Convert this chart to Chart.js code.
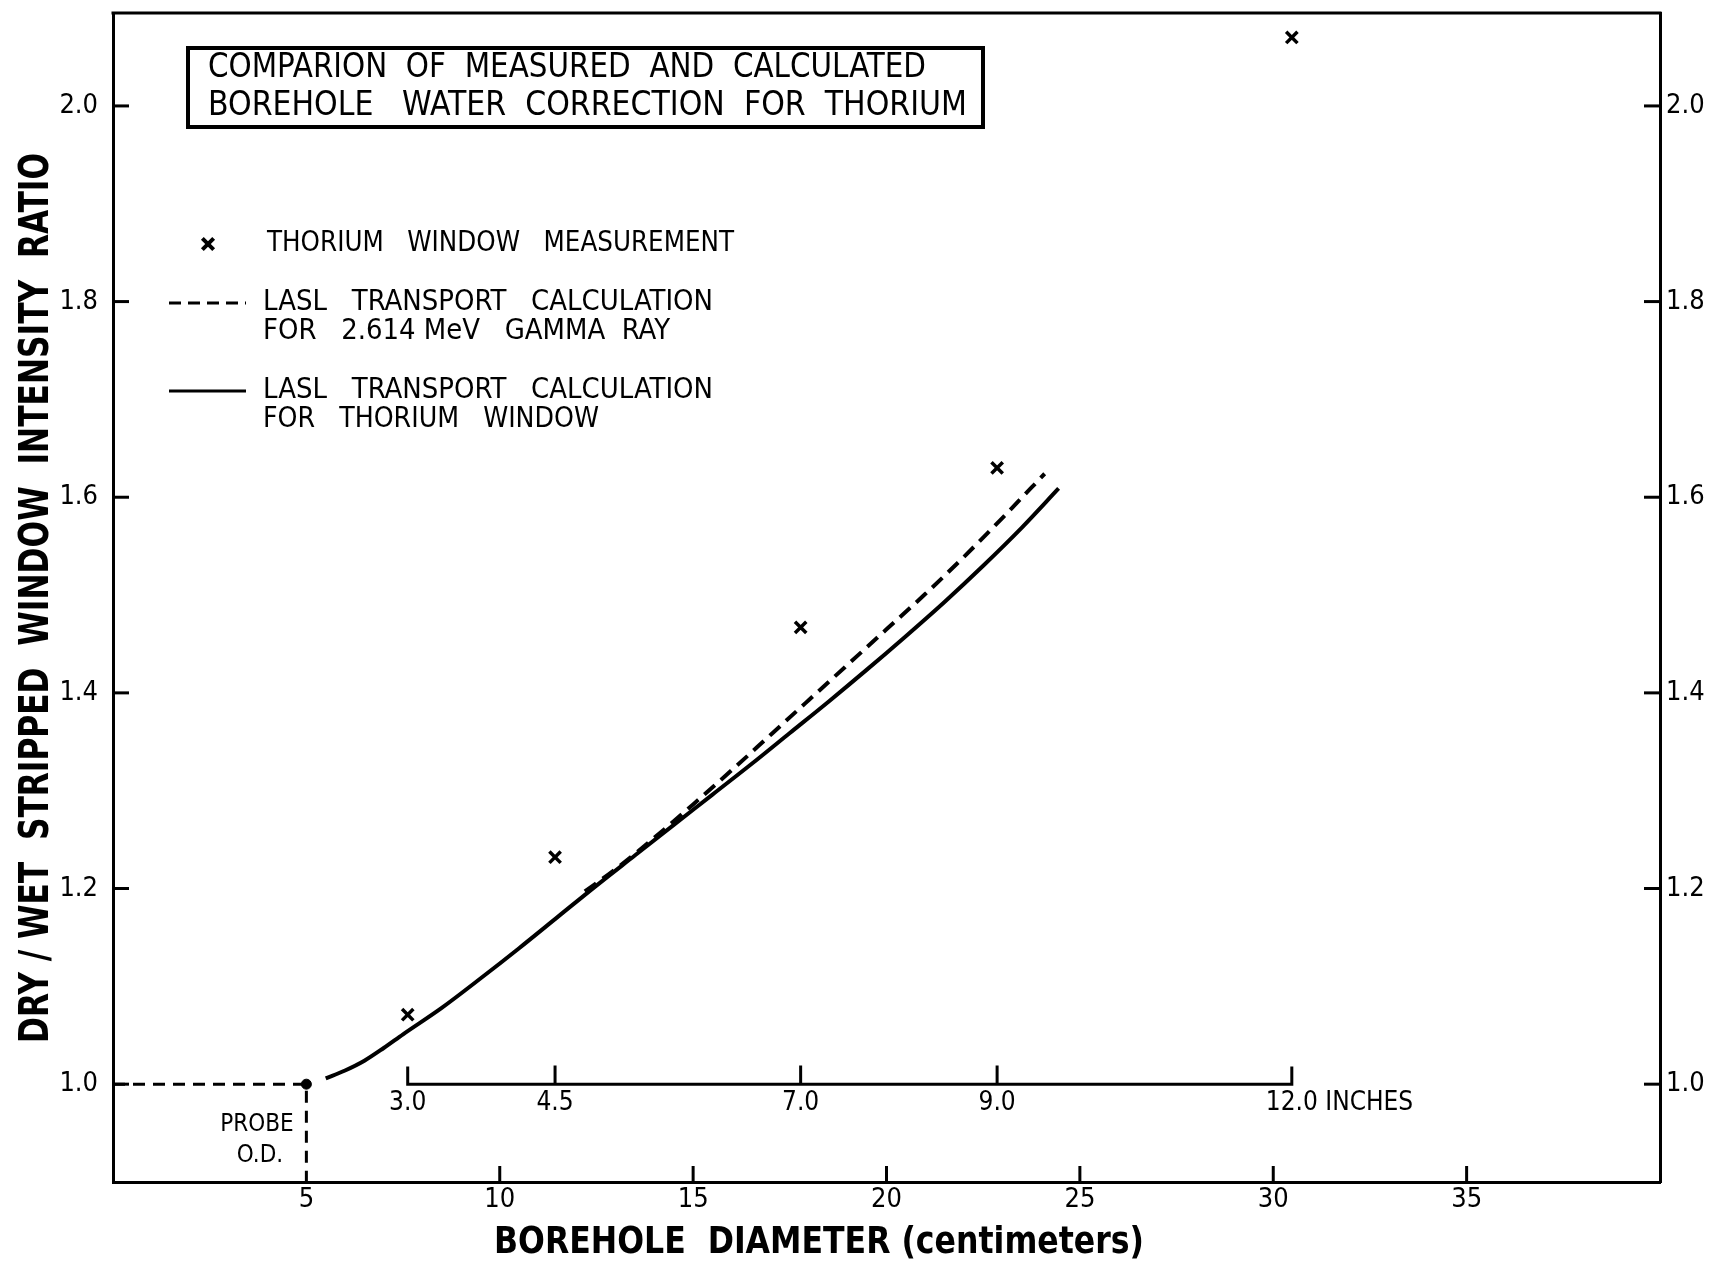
<!DOCTYPE html>
<html>
<head>
<meta charset="utf-8">
<title>Borehole water correction for thorium</title>
<script src="https://cdn.jsdelivr.net/npm/chart.js@4.4.0/dist/chart.umd.min.js"></script>
<style>
  html, body { margin: 0; padding: 0; background: #fff; }
</style>
</head>
<body>
<canvas id="chart" width="1713" height="1265"></canvas>
<script>
const FONT = "'Liberation Sans Narrow', 'DejaVu Sans Condensed', 'Arial Narrow', sans-serif";

// thorium window measurements (borehole diameter in cm)
const measuredX = [7.62, 11.43, 17.78, 22.86, 30.48];
const measuredY = [1.071, 1.232, 1.467, 1.630, 2.070];

// LASL transport calculation for thorium window (solid)
const thoriumX = [5.5, 6.0, 6.5, 7.0, 7.5, 8.5, 9.5, 10.5, 11.5, 12.5, 13.5, 14.5, 15.5, 16.5, 17.5, 18.5, 19.5, 20.5, 21.5, 22.5, 23.5, 24.45];
const thoriumY = [1.006, 1.014, 1.024, 1.037, 1.051, 1.078, 1.108, 1.139, 1.171, 1.203, 1.234, 1.265, 1.296, 1.327, 1.359, 1.391, 1.424, 1.458, 1.493, 1.530, 1.569, 1.609];

// LASL transport calculation for 2.614 MeV gamma ray (dashed)
const gammaX = [12.2, 13.0, 14.0, 15.0, 16.0, 17.0, 18.0, 19.0, 20.0, 21.0, 22.0, 23.0, 24.09];
const gammaY = [1.197, 1.220, 1.252, 1.286, 1.321, 1.357, 1.393, 1.429, 1.465, 1.501, 1.539, 1.579, 1.624];

// probe O.D. guide
const probeX = [0, 5, 5];
const probeY = [1.0, 1.0, 0.9];

const xTicks = [5, 10, 15, 20, 25, 30, 35];
const yTicks = [1.0, 1.2, 1.4, 1.6, 1.8, 2.0];

// inch scale drawn inside the plot
const inchValues = [3.0, 4.5, 7.0, 9.0, 12.0];
const inchLabels = ['3.0', '4.5', '7.0', '9.0', '12.0'];
const inchAxisY = 1.0;
const CM_PER_INCH = 2.54;

const titleLines = ['COMPARION  OF  MEASURED  AND  CALCULATED', 'BOREHOLE   WATER  CORRECTION  FOR  THORIUM'];
const xTitle = 'BOREHOLE  DIAMETER (centimeters)';
const yTitle = 'DRY / WET  STRIPPED  WINDOW  INTENSITY  RATIO';

// inch axis line + tick marks as one broken line
const inchCm = inchValues.map(v => v * CM_PER_INCH);
const inchAxisData = [];
inchCm.forEach((c, i) => {
  const last = inchCm[inchCm.length - 1];
  if (i === 0) {
    inchAxisData.push({x: c, y: inchAxisY + 0.018}, {x: c, y: inchAxisY}, {x: last, y: inchAxisY}, {x: last, y: inchAxisY + 0.018}, {x: c, y: null});
  } else if (i < inchCm.length - 1) {
    inchAxisData.push({x: c, y: inchAxisY}, {x: c, y: inchAxisY + 0.019}, {x: c, y: null});
  }
});

function pts(xs, ys) { return xs.map((v, i) => ({x: v, y: ys[i]})); }

// draw text squeezed/stretched to a given width
function fitText(ctx, text, x, y, w, rot) {
  const m = ctx.measureText(text).width;
  ctx.save();
  ctx.translate(x, y);
  if (rot) ctx.rotate(rot);
  ctx.scale(w / m, 1);
  ctx.textAlign = 'left';
  ctx.fillText(text, 0, 0);
  ctx.restore();
}

function seg(ctx, x1, y1, x2, y2) {
  ctx.beginPath(); ctx.moveTo(x1, y1); ctx.lineTo(x2, y2); ctx.stroke();
}

const decorations = {
  id: 'decorations',
  afterDraw(chart) {
    const {ctx, chartArea: a, scales: {x, y}} = chart;
    ctx.save();
    ctx.strokeStyle = '#000';
    ctx.fillStyle = '#000';
    ctx.textBaseline = 'middle';

    // top frame and inward ticks
    ctx.lineWidth = 3;
    seg(ctx, a.left - 1.5, a.top, a.right + 1.5, a.top);
    xTicks.forEach(v => {
      if (v === 5) return;
      const px = x.getPixelForValue(v);
      seg(ctx, px, a.bottom, px, a.bottom - 16);
    });
    yTicks.forEach(v => {
      const py = y.getPixelForValue(v);
      seg(ctx, a.left, py, a.left + 16, py);
      seg(ctx, a.right, py, a.right - 16, py);
    });

    // inch scale labels
    ctx.font = '26px ' + FONT;
    const ly = y.getPixelForValue(inchAxisY) + 19;
    inchLabels.forEach((t, i) => {
      const px = x.getPixelForValue(inchCm[i]);
      ctx.textAlign = 'center';
      ctx.fillText(t, px, ly);
      if (i === inchLabels.length - 1) {
        ctx.textAlign = 'left';
        ctx.fillText(' INCHES', px + ctx.measureText(t).width / 2, ly);
      }
    });

    // probe O.D. note
    ctx.font = '24px ' + FONT;
    ctx.textAlign = 'center';
    ctx.fillText('PROBE', 257, 1125);
    ctx.fillText('O.D.', 260, 1156);

    // title box
    ctx.lineWidth = 4;
    ctx.strokeRect(188, 48, 795, 79);
    ctx.font = '33px ' + FONT;
    fitText(ctx, titleLines[0], 208, 68, 718);
    fitText(ctx, titleLines[1], 208, 106, 759);

    // legend
    ctx.font = '28px ' + FONT;
    Chart.helpers.drawPoint(ctx, {pointStyle: 'crossRot', radius: 8, borderWidth: 3.5, rotation: 0}, 208, 244);
    fitText(ctx, 'THORIUM   WINDOW   MEASUREMENT', 267, 244, 467);
    ctx.lineWidth = 3;
    ctx.setLineDash([12, 7]);
    seg(ctx, 169, 303, 246, 303);
    ctx.setLineDash([]);
    fitText(ctx, 'LASL   TRANSPORT   CALCULATION', 263, 303, 450);
    fitText(ctx, 'FOR   2.614 MeV   GAMMA  RAY', 263, 332, 407);
    seg(ctx, 169, 391, 246, 391);
    fitText(ctx, 'LASL   TRANSPORT   CALCULATION', 263, 391, 450);
    fitText(ctx, 'FOR   THORIUM   WINDOW', 263, 420, 336);

    // axis titles
    ctx.font = 'bold 38px ' + FONT;
    fitText(ctx, xTitle, 494, 1243, 650);
    ctx.font = 'bold 40px ' + FONT;
    fitText(ctx, yTitle, 38, 1043, 890, -Math.PI / 2);
    ctx.restore();
  }
};

const tickFont = {family: FONT, size: 27};
const noTopPad = s => { s.paddingTop = 0; s.paddingBottom = 0; };

new Chart(document.getElementById('chart'), {
  data: {
    datasets: [
      {
        type: 'line', label: 'probe', data: pts(probeX, probeY),
        borderColor: '#000', borderWidth: 3, borderDash: [12, 8], pointRadius: 0, tension: 0
      },
      {
        type: 'scatter', label: 'probe dot', data: pts([probeX[1]], [probeY[1]]),
        backgroundColor: '#000', borderColor: '#000', pointRadius: 5
      },
      {
        type: 'line', label: 'inch scale', data: inchAxisData,
        borderColor: '#000', borderWidth: 3, pointRadius: 0, spanGaps: false, tension: 0
      },
      {
        type: 'line', label: 'LASL transport calculation for thorium window', data: pts(thoriumX, thoriumY),
        borderColor: '#000', borderWidth: 4, pointRadius: 0, cubicInterpolationMode: 'monotone'
      },
      {
        type: 'line', label: 'LASL transport calculation for 2.614 MeV gamma ray', data: pts(gammaX, gammaY),
        borderColor: '#000', borderWidth: 4, borderDash: [14, 8], pointRadius: 0, cubicInterpolationMode: 'monotone'
      },
      {
        type: 'scatter', label: 'Thorium window measurement', data: pts(measuredX, measuredY),
        pointStyle: 'crossRot', pointRadius: 8, borderWidth: 3.5, borderColor: '#000'
      }
    ]
  },
  options: {
    responsive: false,
    devicePixelRatio: 1,
    animation: false,
    layout: {padding: {top: 13, left: 0, right: 0, bottom: 0}},
    plugins: {legend: {display: false}, tooltip: {enabled: false}},
    scales: {
      x: {
        type: 'linear', position: 'bottom', min: 0, max: 40,
        afterBuildTicks: s => { s.ticks = xTicks.map(v => ({value: v})); },
        afterFit: s => { s.height = 83; s.paddingLeft = 0; s.paddingRight = 0; },
        ticks: {font: tickFont, color: '#000', padding: 2},
        grid: {display: false, drawTicks: false},
        border: {display: true, color: '#000', width: 3}
      },
      y: {
        type: 'linear', position: 'left', min: 0.9, max: 2.095,
        afterBuildTicks: s => { s.ticks = yTicks.map(v => ({value: v})); },
        afterFit: s => { s.width = 113; noTopPad(s); },
        ticks: {font: tickFont, color: '#000', padding: 15, callback: v => v.toFixed(1)},
        grid: {display: false, drawTicks: false},
        border: {display: true, color: '#000', width: 3},
        title: {display: false, text: yTitle}
      },
      y2: {
        type: 'linear', position: 'right', min: 0.9, max: 2.095,
        afterBuildTicks: s => { s.ticks = yTicks.map(v => ({value: v})); },
        afterFit: s => { s.width = 53; noTopPad(s); },
        ticks: {font: tickFont, color: '#000', padding: 6, callback: v => v.toFixed(1)},
        grid: {display: false, drawTicks: false},
        border: {display: true, color: '#000', width: 3}
      }
    }
  },
  plugins: [decorations]
});
</script>
</body>
</html>
